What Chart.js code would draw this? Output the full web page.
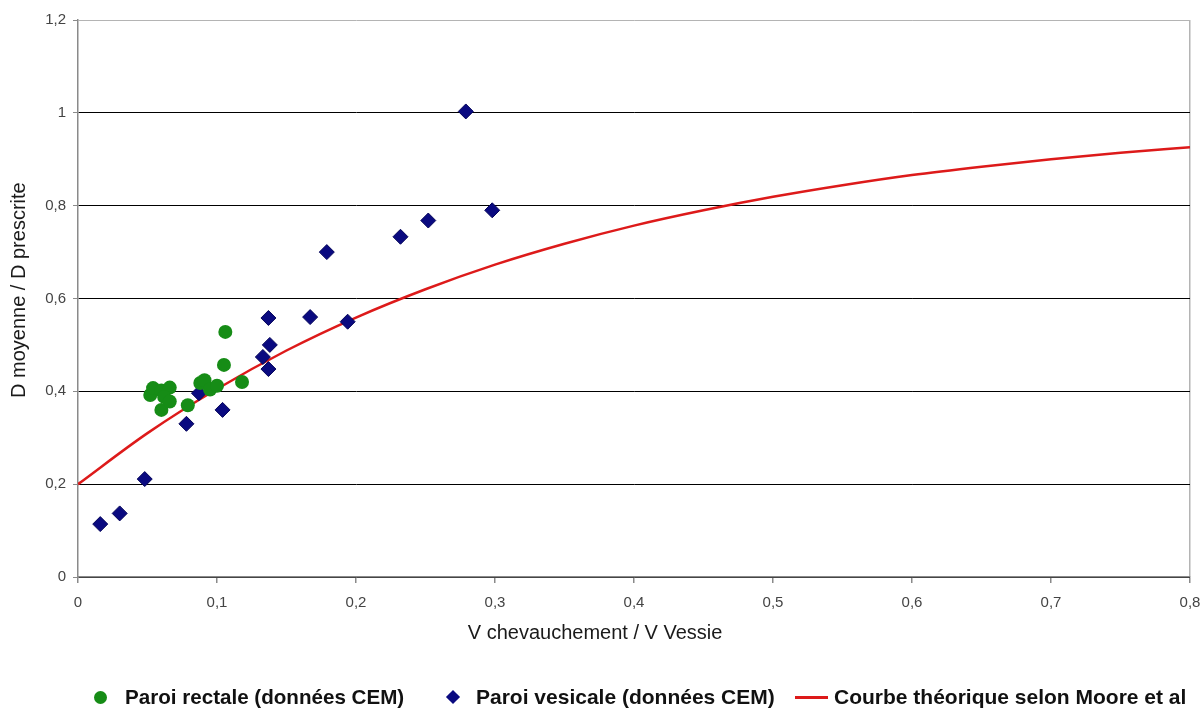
<!DOCTYPE html>
<html lang="fr">
<head>
<meta charset="utf-8">
<script src="https://cdn.jsdelivr.net/npm/chart.js@4.4.1/dist/chart.umd.min.js"></script>
<style>
    html, body { margin: 0; padding: 0; background: #fff; }
    #wrap { position: relative; width: 1201px; height: 710px; }
    .leg {
        position: absolute; top: 684px; height: 26px;
        font: bold 21px "Liberation Sans", Arial, sans-serif; color: #111;
        white-space: nowrap; line-height: 26px;
    }
    .mk { position: absolute; }
</style>
</head>
<body>
<div id="wrap">
    <canvas id="c"></canvas>
    <!-- legende faite a la main pour coller au positionnement d'Excel -->
    <div class="leg" style="left:125px;font-size:20.6px">Paroi rectale (données CEM)</div>
    <div class="leg" style="left:476px">Paroi vesicale (données CEM)</div>
    <div class="leg" style="left:834px">Courbe théorique selon Moore et al</div>
    <div class="mk" style="left:94px;top:691px;width:13px;height:13px;border-radius:50%;background:#168c16"></div>
    <div class="mk" style="left:448px;top:692px;width:10px;height:10px;background:#0a0a80;transform:rotate(45deg)"></div>
    <div class="mk" style="left:795px;top:696px;width:33px;height:3px;background:#dd1a1a"></div>
</div>
<script>
// Paroi rectale (points verts)
const rectaleX = [0.052, 0.054, 0.060, 0.066, 0.062, 0.060, 0.066, 0.079, 0.088, 0.091, 0.095, 0.100, 0.105, 0.106, 0.118];
const rectaleY = [0.392, 0.407, 0.402, 0.408, 0.388, 0.360, 0.378, 0.370, 0.418, 0.424, 0.404, 0.412, 0.457, 0.528, 0.420];

// Paroi vesicale (losanges bleus)
const vesicaleX = [0.016, 0.030, 0.048, 0.078, 0.087, 0.104, 0.133, 0.137, 0.138, 0.137, 0.167, 0.179, 0.194, 0.232, 0.252, 0.279, 0.298];
const vesicaleY = [0.114, 0.137, 0.211, 0.330, 0.396, 0.360, 0.474, 0.448, 0.500, 0.558, 0.560, 0.700, 0.550, 0.733, 0.768, 1.003, 0.790];

// Courbe theorique (Moore et al)
const mooreX = [0, 0.05, 0.1, 0.15, 0.2, 0.25, 0.3, 0.35, 0.4, 0.45, 0.5, 0.55, 0.6, 0.65, 0.7, 0.75, 0.8];
const mooreY = [0.20, 0.31, 0.405, 0.488, 0.559, 0.62, 0.673, 0.718, 0.757, 0.79, 0.819, 0.844, 0.866, 0.884, 0.90, 0.914, 0.926];

const xTicks = [0, 0.1, 0.2, 0.3, 0.4, 0.5, 0.6, 0.7, 0.8];
const yTicks = [0, 0.2, 0.4, 0.6, 0.8, 1, 1.2];

const FONT = '"Liberation Sans", Arial, sans-serif';

function toPoints(xs, ys) {
    return xs.map((x, i) => ({ x: x, y: ys[i] }));
}

// virgule decimale a la francaise
function frNum(v) {
    return String(Math.round(v * 10) / 10).replace('.', ',');
}

// titres des axes : dans Excel ils ne sont pas centres sur la zone de tracé
const axisTitlesPlugin = {
    id: 'axisTitles',
    afterDraw(chart) {
        const { ctx, chartArea } = chart;
        ctx.save();
        ctx.font = '20px ' + FONT;
        ctx.fillStyle = '#1a1a1a';
        ctx.textAlign = 'center';
        ctx.textBaseline = 'middle';
        const cx = chartArea.left + (chartArea.right - chartArea.left) * 0.465;
        ctx.fillText('V chevauchement / V Vessie', cx, chartArea.bottom + 56);

        const cy = chartArea.top + (chartArea.bottom - chartArea.top) * 0.485;
        ctx.translate(19, cy);
        ctx.rotate(-Math.PI / 2);
        ctx.fillText('D moyenne / D prescrite', 0, 0);
        ctx.restore();
    }
};

new Chart(document.getElementById('c'), {
    type: 'scatter',
    data: {
        datasets: [
            {
                label: 'Paroi rectale (données CEM)',
                data: toPoints(rectaleX, rectaleY),
                pointStyle: 'circle',
                pointRadius: 7,
                backgroundColor: '#168c16',
                borderColor: '#168c16',
                borderWidth: 0,
                order: 1
            },
            {
                label: 'Paroi vesicale (données CEM)',
                data: toPoints(vesicaleX, vesicaleY),
                pointStyle: 'rectRot',
                pointRadius: 7.5,
                backgroundColor: '#0a0a80',
                borderColor: '#05055a',
                borderWidth: 1,
                order: 2
            },
            {
                label: 'Courbe théorique selon Moore et al',
                data: toPoints(mooreX, mooreY),
                showLine: true,
                pointRadius: 0,
                borderColor: '#dd1a1a',
                borderWidth: 2.5,
                cubicInterpolationMode: 'monotone',
                fill: false,
                order: 3
            }
        ]
    },
    options: {
        responsive: true,
        maintainAspectRatio: false,
        animation: false,
        layout: { padding: { top: 20, right: 11, left: 0, bottom: 0 } },
        plugins: {
            legend: { display: false },
            tooltip: { enabled: false }
        },
        scales: {
            x: {
                type: 'linear',
                min: 0,
                max: 0.8,
                afterBuildTicks: axis => { axis.ticks = xTicks.map(v => ({ value: v })); },
                afterFit: axis => {
                    axis.height = 133;
                    // pas de marge auto pour le dernier libellé, on garde le bord à 1190px
                    axis.paddingLeft = 0;
                    axis.paddingRight = 0;
                },
                border: { color: '#8a8a8a', width: 1.5 },
                grid: {
                    color: c => (c.tick && c.tick.value === 0.8) ? '#b4b4b4' : 'rgba(0,0,0,0)',
                    tickColor: '#8a8a8a',
                    tickLength: 6,
                    lineWidth: 1.5
                },
                ticks: {
                    callback: v => frNum(v),
                    color: '#444',
                    padding: 11,
                    maxRotation: 0,
                    font: { family: FONT, size: 15 }
                },
                title: { display: false }
            },
            y: {
                type: 'linear',
                min: 0,
                max: 1.2,
                afterBuildTicks: axis => { axis.ticks = yTicks.map(v => ({ value: v })); },
                afterFit: axis => { axis.width = 78; },
                border: { color: '#8a8a8a', width: 1.5 },
                grid: {
                    color: c => {
                        if (!c.tick) return '#000';
                        if (c.tick.value === 1.2) return '#b4b4b4';
                        return '#000';
                    },
                    tickColor: '#8a8a8a',
                    tickLength: 5,
                    lineWidth: 1
                },
                ticks: {
                    callback: v => frNum(v),
                    color: '#444',
                    padding: 7,
                    font: { family: FONT, size: 15 }
                },
                title: { display: false }
            }
        }
    },
    plugins: [axisTitlesPlugin]
});
</script>
</body>
</html>
